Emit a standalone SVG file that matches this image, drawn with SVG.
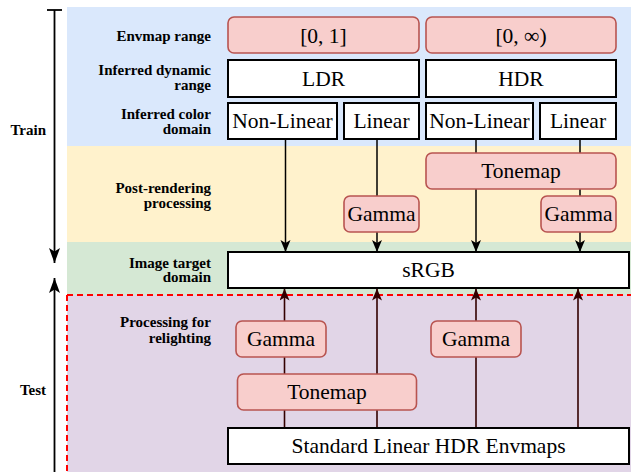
<svg xmlns="http://www.w3.org/2000/svg" width="631" height="472" viewBox="0 0 631 472">
  <style>
    .band-blue { fill: #dae8fc; }
    .band-yellow { fill: #fff2cc; }
    .band-green { fill: #d5e8d4; }
    .band-purple { fill: #e1d5e7; }
    .box { fill: #ffffff; stroke: #000000; stroke-width: 2; }
    .op { fill: #f8cecc; stroke: #b85450; stroke-width: 1.6; }
    .node-text { font-family: "Liberation Serif", "Times New Roman", serif; font-size: 21.5px; fill: #000000; text-anchor: middle; }
    .row-label { font-family: "Liberation Serif", "Times New Roman", serif; font-size: 15px; font-weight: bold; fill: #000000; text-anchor: end; }
    .train-edge { stroke: #000000; stroke-width: 1.5; fill: none; }
    .test-edge { stroke: #330000; stroke-width: 1.6; fill: none; }
    .axis { stroke: #000000; stroke-width: 1.8; fill: none; }
    .split { stroke: #ff0000; stroke-width: 2; stroke-dasharray: 6 4; fill: none; }
  </style>
  <defs>
    <marker id="arrow-train" markerUnits="userSpaceOnUse" markerWidth="13" markerHeight="11" refX="12" refY="5" orient="auto">
      <path d="M0,0 L12,5 L0,10 L3,5 Z" fill="#000000"/>
    </marker>
    <marker id="arrow-test" markerUnits="userSpaceOnUse" markerWidth="13" markerHeight="11" refX="12" refY="5" orient="auto">
      <path d="M0,0 L12,5 L0,10 L3,5 Z" fill="#330000"/>
    </marker>
    <marker id="arrow-axis" markerUnits="userSpaceOnUse" markerWidth="16" markerHeight="12" refX="15" refY="5.5" orient="auto">
      <path d="M0,0 L15,5.5 L0,11 L3.5,5.5 Z" fill="#000000"/>
    </marker>
  </defs>

  <!-- stage bands -->
  <g id="bands">
    <rect class="band-blue" x="67" y="7" width="564" height="139"/>
    <rect class="band-yellow" x="67" y="146" width="564" height="96"/>
    <rect class="band-green" x="67" y="242" width="564" height="53"/>
    <rect class="band-purple" x="67" y="295" width="564" height="177"/>
    <path class="split" d="M67,295 H631 M67,295 V472"/>
  </g>

  <!-- train / test axis -->
  <g id="axis">
    <path class="axis" d="M47,10 H62"/>
    <path class="axis" d="M54.5,10 V263" marker-end="url(#arrow-axis)"/>
    <path class="axis" d="M54.5,472 V278" marker-end="url(#arrow-axis)"/>
    <text class="row-label" x="46" y="135">Train</text>
    <text class="row-label" x="46" y="395">Test</text>
  </g>

  <!-- row labels -->
  <g id="row-labels">
    <text class="row-label" x="211" y="40.5">Envmap range</text>
    <text class="row-label" x="211" y="74.5">Inferred dynamic</text>
    <text class="row-label" x="211" y="89.5">range</text>
    <text class="row-label" x="211" y="119">Inferred color</text>
    <text class="row-label" x="211" y="134">domain</text>
    <text class="row-label" x="211" y="192.5">Post-rendering</text>
    <text class="row-label" x="211" y="208">processing</text>
    <text class="row-label" x="211" y="267.5">Image target</text>
    <text class="row-label" x="211" y="282">domain</text>
    <text class="row-label" x="211" y="327">Processing for</text>
    <text class="row-label" x="211" y="342.5">relighting</text>
  </g>

  <!-- connectors -->
  <g id="connectors">
    <!-- train: LDR non-linear straight to sRGB -->
    <path class="train-edge" d="M285.5,139 V252" marker-end="url(#arrow-train)"/>
    <!-- train: LDR linear through gamma -->
    <path class="train-edge" d="M377,139 V196"/>
    <path class="train-edge" d="M377,232 V252" marker-end="url(#arrow-train)"/>
    <!-- train: HDR non-linear through tonemap -->
    <path class="train-edge" d="M476,139 V153"/>
    <path class="train-edge" d="M476,189 V252" marker-end="url(#arrow-train)"/>
    <!-- train: HDR linear through tonemap and gamma -->
    <path class="train-edge" d="M580,139 V153"/>
    <path class="train-edge" d="M580,189 V196"/>
    <path class="train-edge" d="M580,232 V252" marker-end="url(#arrow-train)"/>

    <!-- test: tonemap then gamma -->
    <path class="test-edge" d="M284.5,428 V410"/>
    <path class="test-edge" d="M284.5,374 V357"/>
    <path class="test-edge" d="M284.5,321 V288.5" marker-end="url(#arrow-test)"/>
    <!-- test: tonemap only -->
    <path class="test-edge" d="M377,428 V410"/>
    <path class="test-edge" d="M377,374 V288.5" marker-end="url(#arrow-test)"/>
    <!-- test: gamma only -->
    <path class="test-edge" d="M476,428 V357"/>
    <path class="test-edge" d="M476,321 V288.5" marker-end="url(#arrow-test)"/>
    <!-- test: linear as-is -->
    <path class="test-edge" d="M578,428 V288.5" marker-end="url(#arrow-test)"/>
  </g>

  <!-- envmap range -->
  <g id="range-ldr">
    <rect class="op" x="228" y="17" width="191" height="36" rx="6"/>
    <text class="node-text" x="323.5" y="42.5">[0, 1]</text>
  </g>
  <g id="range-hdr">
    <rect class="op" x="426" y="17" width="190" height="36" rx="6"/>
    <text class="node-text" x="521" y="42.5">[0, ∞)</text>
  </g>

  <!-- inferred dynamic range -->
  <g id="ldr">
    <rect class="box" x="228" y="60" width="191" height="37"/>
    <text class="node-text" x="323.5" y="86">LDR</text>
  </g>
  <g id="hdr">
    <rect class="box" x="426" y="60" width="190" height="37"/>
    <text class="node-text" x="521" y="86">HDR</text>
  </g>

  <!-- inferred color domain -->
  <g id="ldr-nonlinear">
    <rect class="box" x="228" y="103" width="109" height="36"/>
    <text class="node-text" x="282.5" y="128.3">Non-Linear</text>
  </g>
  <g id="ldr-linear">
    <rect class="box" x="344" y="103" width="75" height="36"/>
    <text class="node-text" x="381.5" y="128.3">Linear</text>
  </g>
  <g id="hdr-nonlinear">
    <rect class="box" x="426" y="103" width="107" height="36"/>
    <text class="node-text" x="479.5" y="128.3">Non-Linear</text>
  </g>
  <g id="hdr-linear">
    <rect class="box" x="540" y="103" width="76" height="36"/>
    <text class="node-text" x="578" y="128.3">Linear</text>
  </g>

  <!-- post-rendering processing -->
  <g id="train-tonemap">
    <rect class="op" x="426" y="153" width="190" height="36" rx="6"/>
    <text class="node-text" x="521" y="178.3">Tonemap</text>
  </g>
  <g id="train-gamma-ldr">
    <rect class="op" x="344" y="196" width="75" height="36" rx="6"/>
    <text class="node-text" x="381.5" y="221.3">Gamma</text>
  </g>
  <g id="train-gamma-hdr">
    <rect class="op" x="541" y="196" width="75" height="36" rx="6"/>
    <text class="node-text" x="578.5" y="221.3">Gamma</text>
  </g>

  <!-- image target domain -->
  <g id="srgb">
    <rect class="box" x="228" y="252" width="401" height="36"/>
    <text class="node-text" x="428.5" y="277.3">sRGB</text>
  </g>

  <!-- processing for relighting -->
  <g id="test-gamma-a">
    <rect class="op" x="236" y="321" width="90" height="36" rx="6"/>
    <text class="node-text" x="281" y="346.3">Gamma</text>
  </g>
  <g id="test-gamma-b">
    <rect class="op" x="431" y="321" width="90" height="36" rx="6"/>
    <text class="node-text" x="476" y="346.3">Gamma</text>
  </g>
  <g id="test-tonemap">
    <rect class="op" x="237.5" y="374" width="179" height="36" rx="6"/>
    <text class="node-text" x="327" y="399.3">Tonemap</text>
  </g>

  <!-- source envmaps -->
  <g id="standard-envmaps">
    <rect class="box" x="228" y="428" width="401" height="36"/>
    <text class="node-text" x="428.5" y="453.3">Standard Linear HDR Envmaps</text>
  </g>
</svg>
